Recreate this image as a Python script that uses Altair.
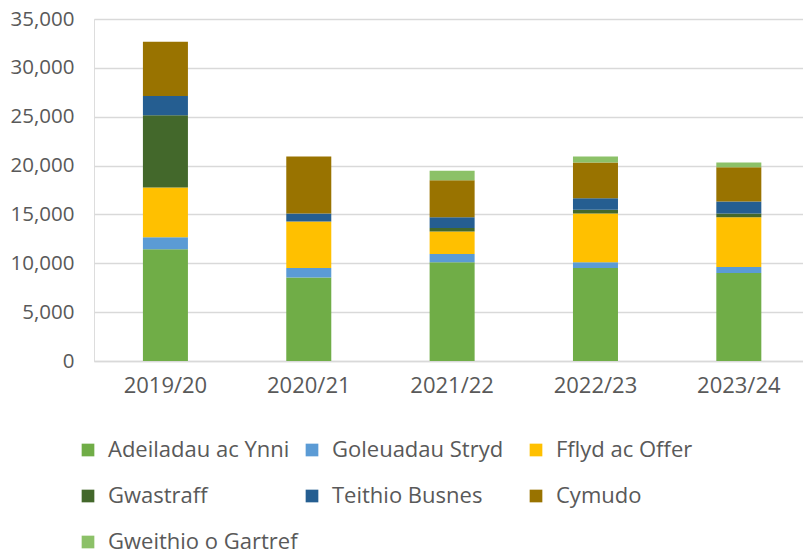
import altair as alt
import pandas as pd

years = ["2019/20", "2020/21", "2021/22", "2022/23", "2023/24"]
categories = ["Adeiladau ac Ynni", "Goleuadau Stryd", "Fflyd ac Offer", "Gwastraff",
              "Teithio Busnes", "Cymudo", "Gweithio o Gartref"]
colors = ["#70AD47", "#5B9BD5", "#FFC000", "#43682B", "#255E91", "#997300", "#8CC168"]

adeiladau = [11440, 8540, 10110, 9530, 9010]
goleuadau = [1230, 990, 850, 580, 620]
fflyd = [5080, 4740, 2290, 4980, 5080]
gwastraff = [7410, 0, 370, 380, 380]
teithio = [1950, 820, 1090, 1190, 1230]
cymudo = [5560, 5840, 3790, 3650, 3520]
gweithio = [0, 0, 960, 620, 470]

series = [adeiladau, goleuadau, fflyd, gwastraff, teithio, cymudo, gweithio]
rows = []
for i, (cat, vals) in enumerate(zip(categories, series)):
    for y, v in zip(years, vals):
        rows.append({"year": y, "cat": cat, "value": v, "idx": i})
df = pd.DataFrame(rows)

FONT = "Open Sans"
TXT = "#595959"

chart = alt.Chart(df).mark_bar().encode(
    x=alt.X("year:N", sort=years,
            scale=alt.Scale(paddingInner=0.686, paddingOuter=0.316, align=0.54),
            axis=alt.Axis(title=None, labelAngle=0, labelFontSize=22, labelColor=TXT,
                          labelFont=FONT, ticks=False, domainColor="#d9d9d9",
                          domainWidth=1.5, labelPadding=14)),
    y=alt.Y("value:Q", stack="zero",
            scale=alt.Scale(domain=[0, 35000], nice=False),
            axis=alt.Axis(title=None, values=list(range(0, 35001, 5000)), format=",d",
                          labelFontSize=20.5, labelColor=TXT, labelFont=FONT,
                          ticks=False, domain=False, gridColor="#d9d9d9",
                          gridWidth=1.5, labelPadding=20)),
    color=alt.Color("cat:N", sort=categories,
                    scale=alt.Scale(domain=categories, range=colors),
                    legend=alt.Legend(title=None, orient="none", legendX=-17, legendY=420,
                                      direction="horizontal", columns=3, gridAlign="all",
                                      columnPadding=3, rowPadding=24,
                                      symbolType="square", symbolSize=161,
                                      symbolStrokeWidth=0, labelOffset=9,
                                      labelFontSize=22, labelColor=TXT, labelFont=FONT,
                                      labelLimit=400)),
    order=alt.Order("idx:Q", sort="ascending"),
).properties(
    width=709, height=342,
    autosize=alt.AutoSizeParams(type="none"),
    padding={"left": 94, "top": 19, "right": 0, "bottom": 193},
).configure_view(stroke=None).configure(background="white")

chart.save("out.html", embed_options={"renderer": "svg", "actions": False})
